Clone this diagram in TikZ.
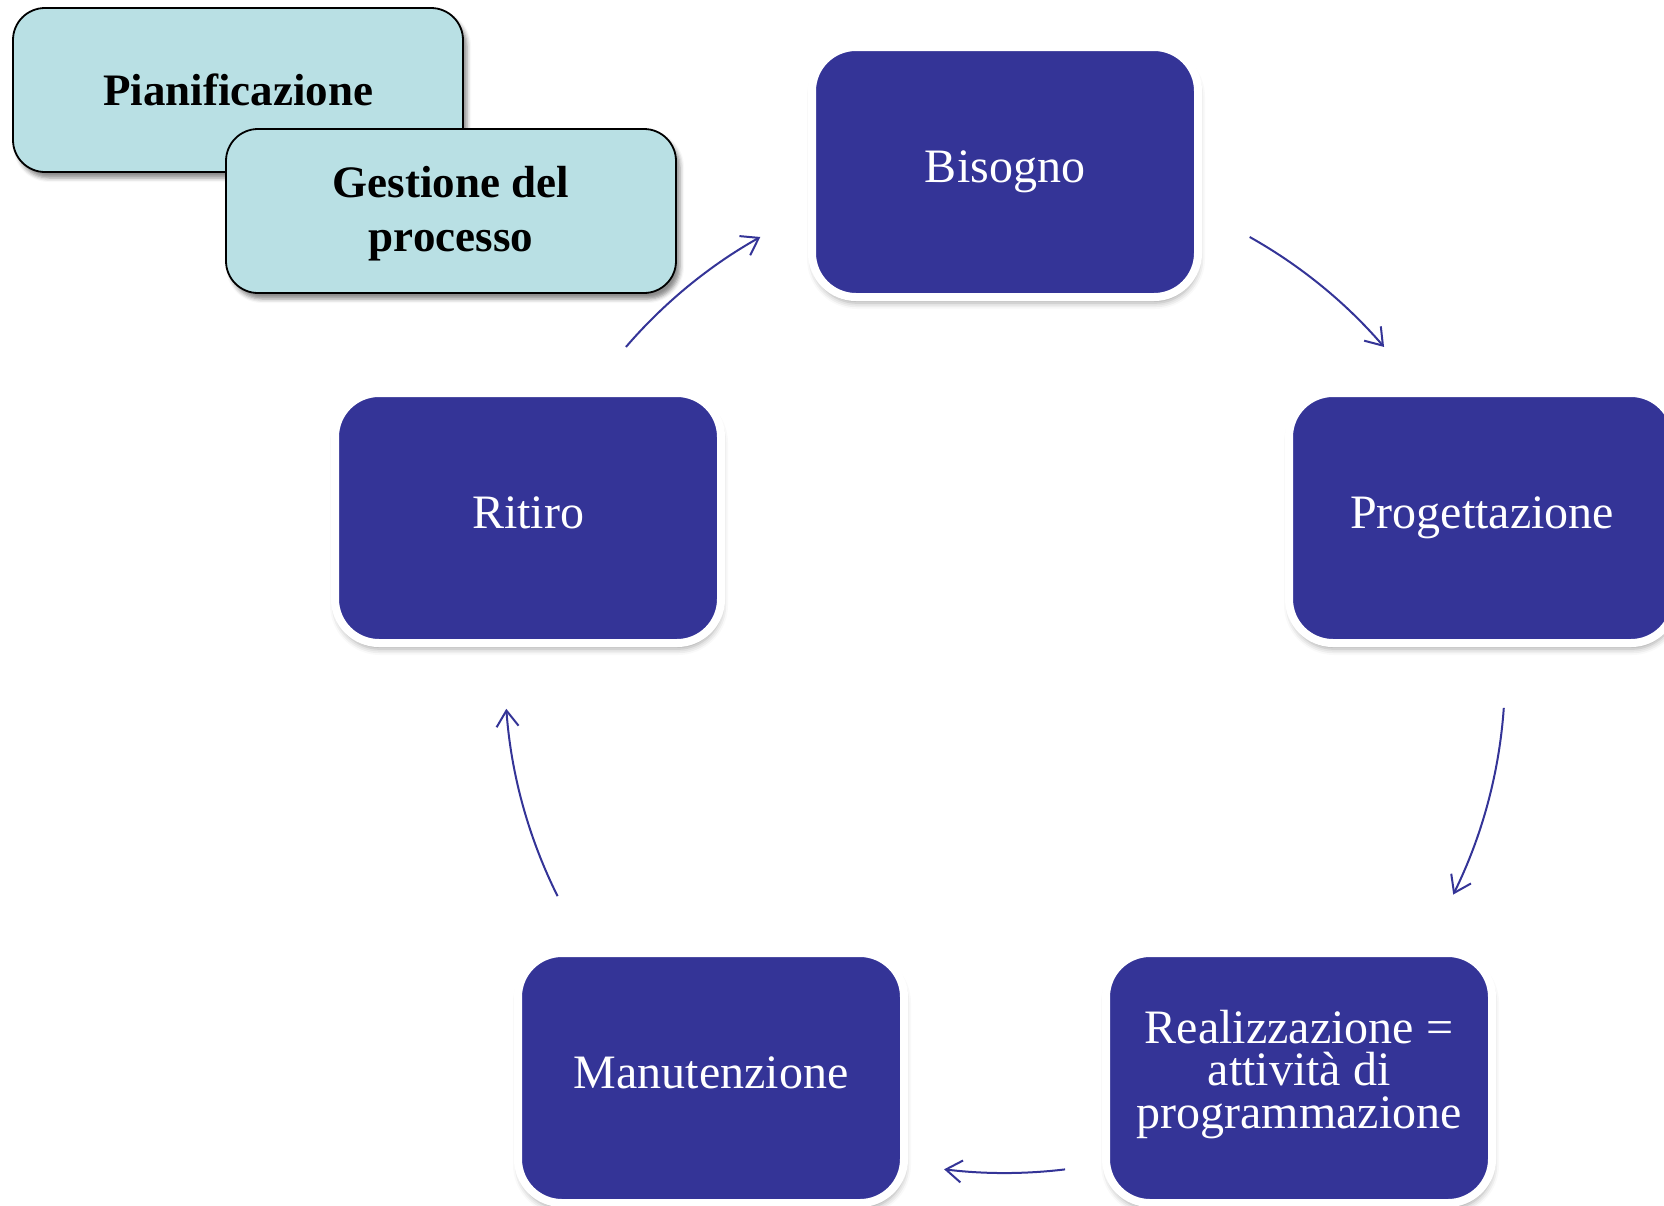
\documentclass[tikz,border=0pt]{standalone}
\usepackage{fontspec}
\setmainfont{Liberation Serif}
\usetikzlibrary{arrows.meta,shadows.blur}
\definecolor{navy}{HTML}{343497}
\definecolor{pale}{HTML}{B9E0E4}
\begin{document}
\begin{tikzpicture}[x=0.5pt,y=-0.5pt,
  darkbox/.style={rectangle, rounded corners=22pt, fill=navy, draw=white,
    line width=4pt, minimum width=193pt, minimum height=125pt, inner sep=0pt,
    text=white, align=center, font=\fontsize{24}{21.25}\selectfont,
    blur shadow={shadow xshift=0.5pt, shadow yshift=-3pt, shadow opacity=35, shadow blur radius=3pt}},
  lightbox/.style={rectangle, rounded corners=16pt, fill=pale, draw=black,
    line width=0.9pt, minimum width=225pt, minimum height=82pt, inner sep=0pt,
    align=center, font=\bfseries\fontsize{22.5}{27}\selectfont,
    blur shadow={shadow xshift=2pt, shadow yshift=-3pt, shadow opacity=45, shadow blur radius=2pt}},
  cyc/.style={draw=navy, line width=1pt, -{Straight Barb[length=8pt,width=11pt]}}]
\useasboundingbox (0,0) rectangle (1664,1205);

\node[lightbox] (plan) at (238,90) {Pianificazione};
\node[lightbox] (gest) at (451,211) {\rule{0pt}{18.5pt}Gestione del\\processo};

\node[darkbox] (bis) at (1005,172) {Bisogno};
\node[darkbox] (prog) at (1482,518) {Progettazione};
\node[darkbox] (rit) at (528,518) {Ritiro\vphantom{g}};
\node[darkbox] (man) at (711,1078) {Manutenzione\vphantom{g}};
\node[darkbox] (real) at (1299,1078) {Realizzazione =\\attività di\\programmazione\rule[-9pt]{0pt}{1pt}};

\coordinate (C) at (1005,673);
\draw[cyc] ([shift={(60.7:250pt)}]C) arc[start angle=60.7, end angle=40.7, radius=250pt];
\draw[cyc] ([shift={(-4:250pt)}]C) arc[start angle=-4, end angle=-26.3, radius=250pt];
\draw[cyc] ([shift={(-83.1:250pt)}]C) arc[start angle=-83.1, end angle=-97, radius=250pt];
\draw[cyc] ([shift={(206.5:250pt)}]C) arc[start angle=206.5, end angle=184.1, radius=250pt];
\draw[cyc] ([shift={(139.3:250pt)}]C) arc[start angle=139.3, end angle=119.3, radius=250pt];
\end{tikzpicture}
\end{document}
